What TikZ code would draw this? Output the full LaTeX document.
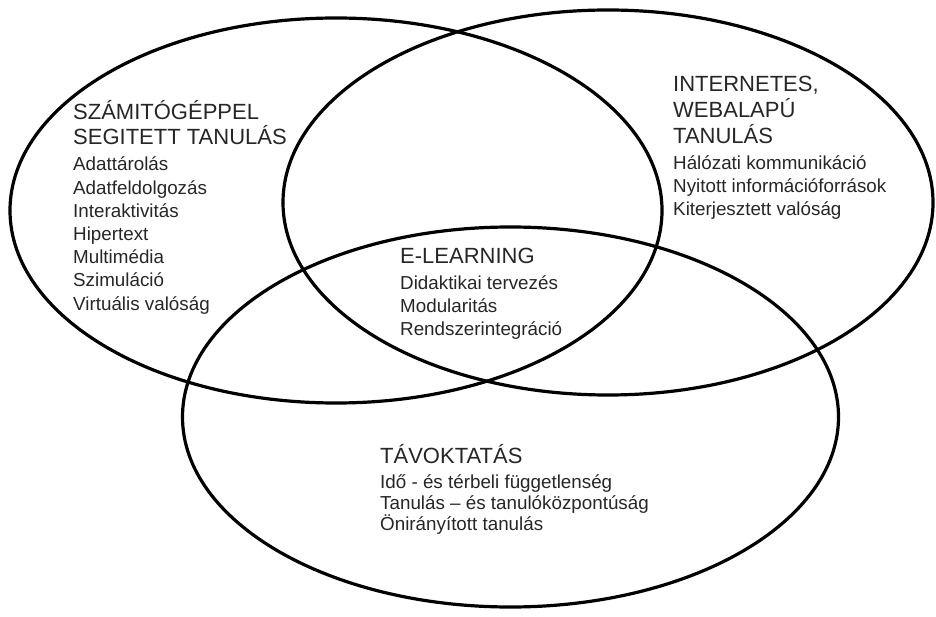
\documentclass[tikz,border=0pt]{standalone}
\usepackage{fontspec}
\setmainfont{Liberation Sans}
\tikzset{
  venn/.style={line width=3.2pt},
  fejlec/.style={anchor=base west, inner sep=0pt, text=black!85, font=\fontsize{22}{25}\selectfont},
  elem/.style={anchor=base west, inner sep=0pt, text=black!85, font=\fontsize{18.8}{23}\selectfont}
}

\begin{document}
\begin{tikzpicture}[x=1pt,y=-1pt]
  \useasboundingbox (0,0) rectangle (936,617);
  % the three sets
  \draw[venn] (336,210.5) ellipse [x radius=326, y radius=192.5];
  \draw[venn] (608,202.5) ellipse [x radius=325, y radius=192.5];
  \draw[venn] (510.5,417) ellipse [x radius=328, y radius=190];

  % left set
  \node[fejlec] (szt1) at (73,120) {SZÁMITÓGÉPPEL};
  \node[fejlec] (szt2) at (73,145) {SEGITETT TANULÁS};
  \foreach \txt [count=\i from 0] in {Adattárolás,Adatfeldolgozás,Interaktivitás,Hipertext,Multimédia,Szimuláció,Virtuális valóság}
    \node[elem] (szt-\i) at (73,{171+23.2*\i}) {\txt};

  % right set
  \node[fejlec] (web1) at (673,91.7) {INTERNETES,};
  \node[fejlec] (web2) at (673,117.5) {WEBALAPÚ};
  \node[fejlec] (web3) at (673,143.3) {TANULÁS};
  \foreach \txt [count=\i from 0] in {Hálózati kommunikáció,Nyitott információforrások,Kiterjesztett valóság}
    \node[elem] (web-\i) at (673,{170+23*\i}) {\txt};

  % middle
  \node[fejlec] (el) at (400,263.3) {E-LEARNING};
  \foreach \txt [count=\i from 0] in {Didaktikai tervezés,Modularitás,Rendszerintegráció}
    \node[elem] (el-\i) at (400,{289.3+23*\i}) {\txt};

  % bottom set
  \node[fejlec] (tav) at (380,463.3) {TÁVOKTATÁS};
  \foreach \txt [count=\i from 0] in {Idő - és térbeli függetlenség,Tanulás – és tanulóközpontúság,Önirányított tanulás}
    \node[elem] (tav-\i) at (380,{488.3+21*\i}) {\txt};
\end{tikzpicture}
\end{document}
